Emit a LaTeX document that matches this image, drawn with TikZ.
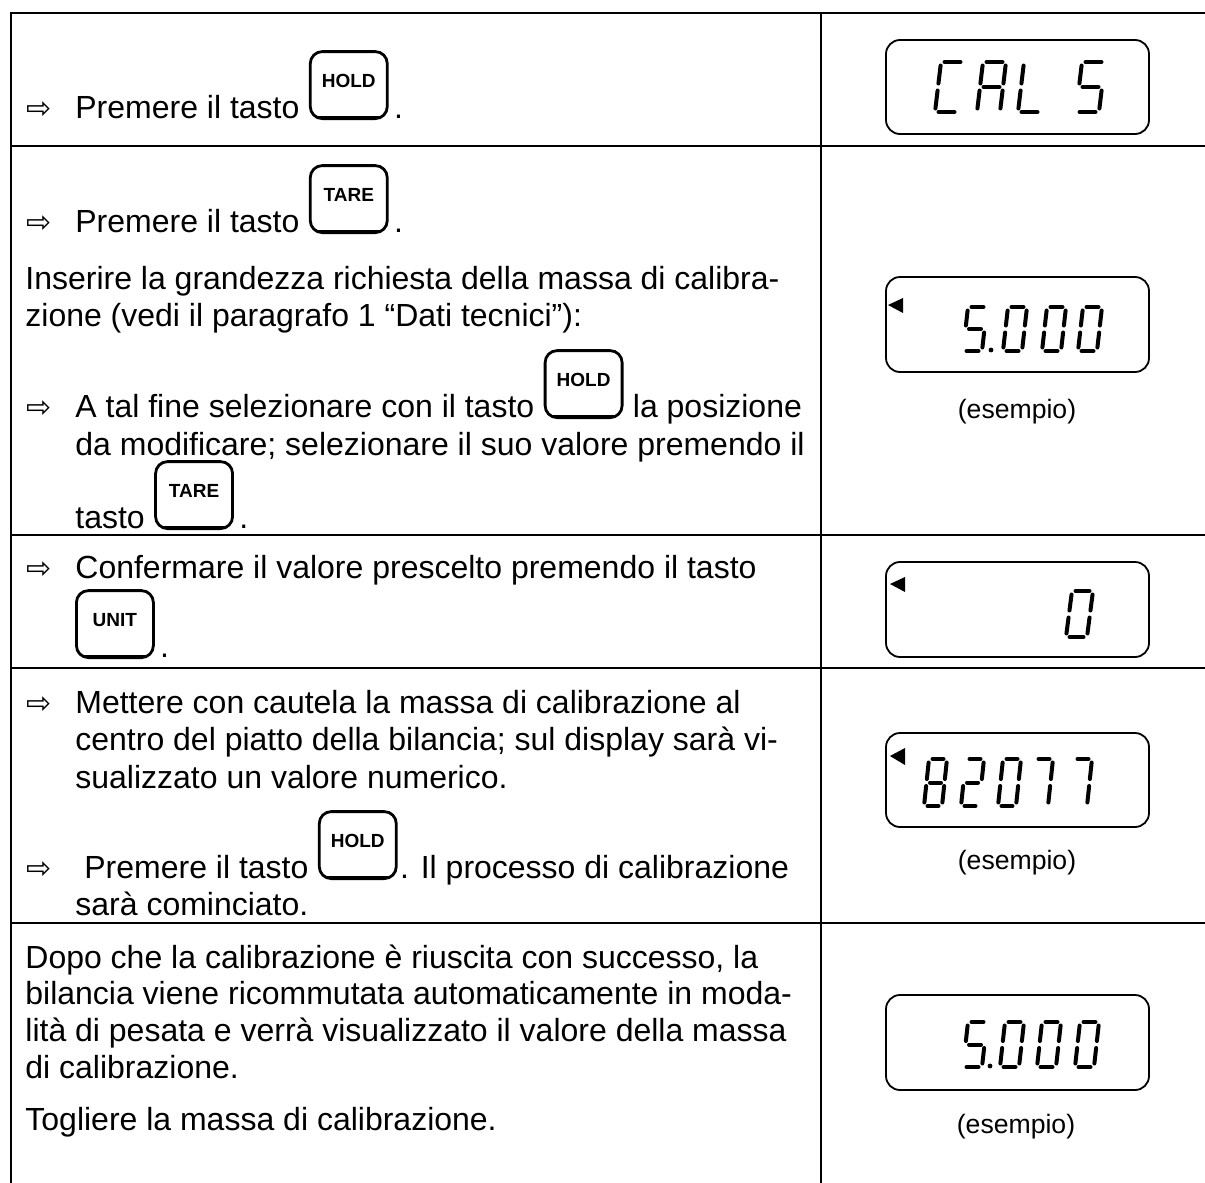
\documentclass[tikz,border=0pt]{standalone}
\usepackage{fontspec}
\setmainfont{Liberation Sans}
\newfontfamily\arrowfont{DejaVu Sans}

% seven segment digits: size h, w, slant
\newcommand{\lcdsize}[3]{\def\dgh{#1}\def\dgw{#2}\def\dgs{#3}\def\dgg{3.5}}
\newcommand{\lcdseg}[4]{\draw[segline] ({\dgx+(#1)+\dgs*(#2)/\dgh},{\dgy-(#2)}) -- ({\dgx+(#3)+\dgs*(#4)/\dgh},{\dgy-(#4)});}
\newcommand{\lcda}{\lcdseg{\dgg}{\dgh}{\dgw-\dgg}{\dgh}}
\newcommand{\lcdb}{\lcdseg{\dgw}{\dgh-\dgg}{\dgw}{\dgh/2+\dgg}}
\newcommand{\lcdc}{\lcdseg{\dgw}{\dgh/2-\dgg}{\dgw}{\dgg}}
\newcommand{\lcdd}{\lcdseg{\dgg}{0}{\dgw-\dgg}{0}}
\newcommand{\lcde}{\lcdseg{0}{\dgg}{0}{\dgh/2-\dgg}}
\newcommand{\lcdf}{\lcdseg{0}{\dgh/2+\dgg}{0}{\dgh-\dgg}}
\newcommand{\lcdg}{\lcdseg{\dgg}{\dgh/2}{\dgw-\dgg}{\dgh/2}}
\newcommand{\lcddigit}[3]{\def\dgx{#1}\def\dgy{#2}\foreach \sg in {#3}{\csname lcd\sg\endcsname}}

\begin{document}
\begin{tikzpicture}[x=0.5pt,y=-0.5pt,
  grid/.style={line width=1.3pt,line cap=rect},
  txt/.style={anchor=base west,inner sep=0pt,font=\fontsize{16}{19}\selectfont},
  arr/.style={anchor=base west,inner sep=0pt,font=\arrowfont\fontsize{15}{17}\selectfont},
  key/.style={draw,line width=1.4pt,rounded corners=6pt,minimum width=38.5pt,
    minimum height=33.5pt,inner sep=0pt,text height=18pt,text depth=15.5pt,
    font=\bfseries\fontsize{9.5}{10}\selectfont,
    path picture={\draw[line width=3pt] (path picture bounding box.south west) -- (path picture bounding box.south east);}},
  lcd/.style={line width=0.9pt,rounded corners=7pt},
  segline/.style={line width=2pt,line cap=round},
  ex/.style={inner sep=0pt,font=\fontsize{13.3}{16}\selectfont}]
\useasboundingbox (0,0) rectangle (1205,1183);

% table
\foreach \y in {13,146,535,668,923}
  \draw[grid] (11,\y) -- (1205,\y);
\draw[grid] (11,13) -- (11,1183);
\draw[grid] (821,13) -- (821,1183);

% row 1
\node[arr] (ar1) at (26,118) {⇨};
\node[txt] (t1) at (75,118) {Premere il tasto};
\node[key,anchor=south west] (k1) at ([xshift=4.5pt,yshift=-1pt]t1.base east) {HOLD};
\node[txt,xshift=2.5pt,yshift=1pt] (d1) at (k1.south east) {.};

% row 2
\node[arr] (ar2) at (26,232) {⇨};
\node[txt] (t2) at (75,232) {Premere il tasto};
\node[key,anchor=south west] (k2) at ([xshift=4.5pt,yshift=-1pt]t2.base east) {TARE};
\node[txt,xshift=2.5pt,yshift=1pt] (d2) at (k2.south east) {.};
\node[txt] (t3) at (25,289) {Inserire la grandezza richiesta della massa di calibra-};
\node[txt] (t4) at (25,326) {zione (vedi il paragrafo 1 “Dati tecnici”):};
\node[arr] (ar3) at (26,417) {⇨};
\node[txt] (t5) at (75,417) {A tal fine selezionare con il tasto};
\node[key,anchor=south west] (k3) at ([xshift=4.5pt,yshift=-1pt]t5.base east) {HOLD};
\node[txt,xshift=4.5pt] (t6) at (k3.south east |- t5.base) {la posizione};
\node[txt] (t7) at (75,455) {da modificare; selezionare il suo valore premendo il};
\node[txt] (t8) at (75,528) {tasto};
\node[key,anchor=south west] (k4) at ([xshift=4.5pt,yshift=-1pt]t8.base east) {TARE};
\node[txt,xshift=2.5pt,yshift=1pt] (d4) at (k4.south east) {.};

% row 3
\node[arr] (ar4) at (26,578) {⇨};
\node[txt] (t9) at (75,578) {Confermare il valore prescelto premendo il tasto};
\node[key,anchor=south west] (k5) at (75,659) {UNIT};
\node[txt,xshift=2.5pt,yshift=1pt] (d5) at (k5.south east) {.};

% row 4
\node[arr] (ar5) at (26,713) {⇨};
\foreach \t [count=\i from 0] in {Mettere con cautela la massa di calibrazione al,
  centro del piatto della bilancia; sul display sarà vi-,
  sualizzato un valore numerico.}
  \node[txt] (m\i) at (75,713+37.5*\i) {\t};
\node[arr] (ar6) at (26,878) {⇨};
\node[txt] (t10) at (84,878) {Premere il tasto};
\node[key,anchor=south west] (k6) at ([xshift=4.5pt,yshift=-1pt]t10.base east) {HOLD};
\node[txt,xshift=1pt] (t11) at (k6.south east |- t10.base) {. Il processo di calibrazione};
\node[txt] (t12) at (75,915) {sarà cominciato.};

% row 5
\foreach \t [count=\i from 0] in {{Dopo che la calibrazione è riuscita con successo, la},
  bilancia viene ricommutata automaticamente in moda-,
  lità di pesata e verrà visualizzato il valore della massa,
  di calibrazione.}
  \node[txt] (p\i) at (25,968+36.7*\i) {\t};
\node[txt] (t13) at (25,1130) {Togliere la massa di calibrazione.};

% displays
\draw[lcd] (886,40) rectangle (1149,134);
\lcdsize{50}{23}{6}
\lcddigit{935}{112}{a,d,e,f}
\lcddigit{977}{112}{a,b,c,e,f,g}
\lcddigit{1018}{112}{d,e,f}
\lcddigit{1076}{112}{a,f,g,c,d}

\draw[lcd] (886,277) rectangle (1149,372);
\fill (888,305) -- (903,298) -- (903,313) -- cycle;
\lcdsize{44}{19}{5}
\lcddigit{963}{351}{a,f,g,c,d}
\foreach \x in {1003,1042,1078}
  \lcddigit{\x}{351}{a,b,c,d,e,f};
\fill (991,350) circle (1.2pt);
\node[ex] (ex1) at (1017,412) {(esempio)};

\draw[lcd] (886,562) rectangle (1149,657);
\fill (890,584) -- (905,577) -- (905,592) -- cycle;
\lcdsize{46}{21}{6}
\lcddigit{1066}{637}{a,b,c,d,e,f}

\draw[lcd] (886,733) rectangle (1149,827);
\fill (890,756) -- (905,748) -- (905,765) -- cycle;
\lcdsize{47}{18}{5}
\lcddigit{924}{806}{a,b,c,d,e,f,g}
\lcddigit{961}{806}{a,b,g,e,d}
\lcddigit{998}{806}{a,b,c,d,e,f}
\lcddigit{1030}{806}{a,b,c}
\lcddigit{1069}{806}{a,b,c}
\node[ex] (ex2) at (1017,863) {(esempio)};

\draw[lcd] (886,995) rectangle (1149,1090);
\lcdsize{45}{19}{5}
\lcddigit{963}{1067}{a,f,g,c,d}
\foreach \x in {1000,1037,1075}
  \lcddigit{\x}{1067}{a,b,c,d,e,f};
\fill (990,1066) circle (1.2pt);
\node[ex] (ex3) at (1016,1127) {(esempio)};
\end{tikzpicture}
\end{document}
